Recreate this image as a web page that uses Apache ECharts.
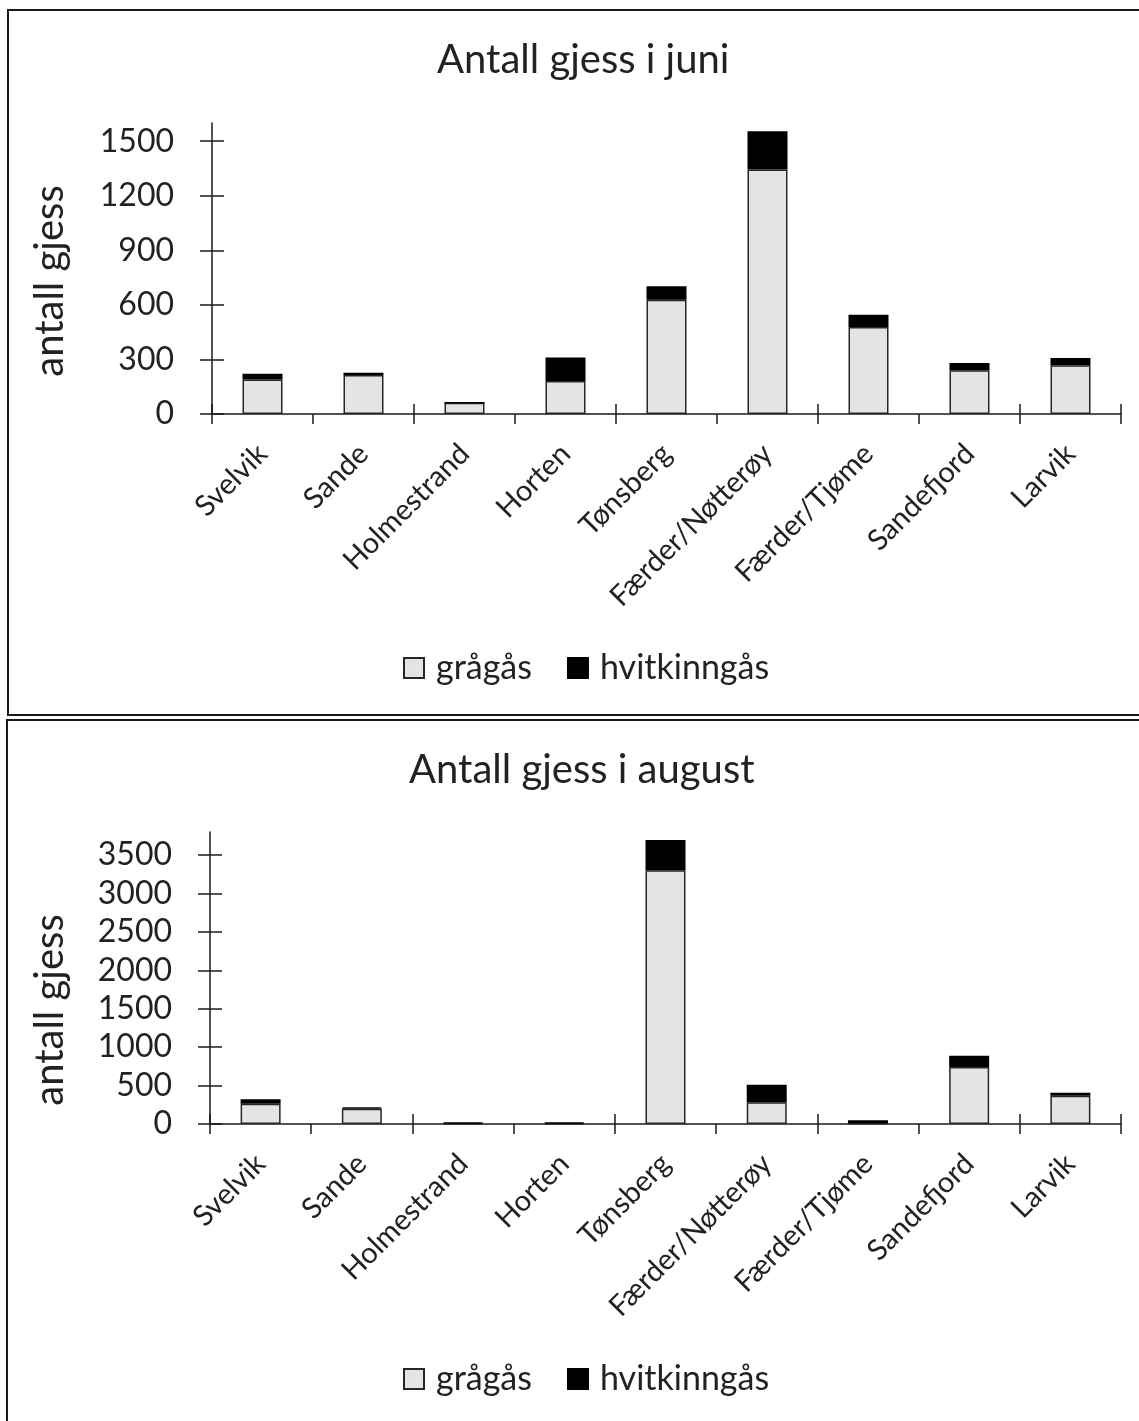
<!DOCTYPE html>
<html>
<head>
<meta charset="utf-8">
<script src="https://cdn.jsdelivr.net/npm/echarts@6/dist/echarts.min.js"></script>
<style>
html,body{margin:0;padding:0;background:#fff;}
#c{width:1139px;height:1421px;}
</style>
</head>
<body>
<div id="c"></div>
<script>
var categories = ['Svelvik','Sande','Holmestrand','Horten','Tønsberg','Færder/Nøtterøy','Færder/Tjøme','Sandefjord','Larvik'];
var juniGragas = [190, 215, 62, 181, 628, 1345, 478, 241, 268];
var juniHvitkinn = [31, 12, 0, 129, 74, 210, 68, 40, 40];
var augGragas = [264, 200, 5, 5, 3302, 282, 10, 741, 368];
var augHvitkinn = [57, 17, 15, 15, 395, 230, 40, 147, 39];
var juniTicks = [0, 300, 600, 900, 1200, 1500];
var augTicks = [0, 500, 1000, 1500, 2000, 2500, 3000, 3500];
var seriesNames = ['grågås', 'hvitkinngås'];
var titles = ['Antall gjess i juni', 'Antall gjess i august'];
var yName = 'antall gjess';

var FONT = 'Lato';
var AX = '#1a1a1a';
var GREY = '#e4e4e4';

function xAxes(grid) {
  return [{
    type: 'category', gridIndex: grid, data: categories, position: 'bottom',
    axisLine: {lineStyle: {color: AX, width: 1.5}},
    axisTick: {show: true, inside: false, length: 10, lineStyle: {color: AX, width: 1.5}},
    axisLabel: {rotate: 45, margin: 35, fontFamily: FONT, fontSize: 29, color: '#222', interval: 0}
  }, {
    type: 'category', gridIndex: grid, data: categories, position: 'bottom',
    axisLine: {show: false},
    axisTick: {show: true, inside: true, length: 10, lineStyle: {color: AX, width: 1.5}},
    axisLabel: {show: false}
  }];
}
function yAxes(grid, max, ticks) {
  return [{
    type: 'value', gridIndex: grid, min: 0, max: max, position: 'left',
    axisLine: {show: true, lineStyle: {color: AX, width: 1.5}},
    axisTick: {show: true, inside: false, length: 12, customValues: ticks, lineStyle: {color: AX, width: 1.5}},
    axisLabel: {customValues: ticks, margin: 38, fontFamily: FONT, fontSize: 32, color: '#222',
      formatter: function (v) { return String(v); }},
    splitLine: {show: false}
  }, {
    type: 'value', gridIndex: grid, min: 0, max: max, position: 'left',
    axisLine: {show: false},
    axisTick: {show: true, inside: true, length: 12, customValues: ticks, lineStyle: {color: AX, width: 1.5}},
    axisLabel: {show: false},
    splitLine: {show: false}
  }];
}
function bars(grid, grey, black, stack) {
  return [{
    name: seriesNames[0], type: 'bar', stack: stack, xAxisIndex: grid * 2, yAxisIndex: grid * 2,
    data: grey, barWidth: 40,
    itemStyle: {color: GREY, borderColor: '#262626', borderWidth: 1.5}
  }, {
    name: seriesNames[1], type: 'bar', stack: stack, xAxisIndex: grid * 2, yAxisIndex: grid * 2,
    data: black, barWidth: 40,
    itemStyle: {color: '#000', borderColor: '#000', borderWidth: 1.5}
  }];
}

var chart = echarts.init(document.getElementById('c'), null, {renderer: 'canvas'});
var legendCommon = {
  icon: 'rect', itemWidth: 20, itemHeight: 20, itemGap: 35,
  textStyle: {fontFamily: FONT, fontSize: 34, color: '#222', padding: [0, 0, 0, 7]},
  data: seriesNames
};
chart.setOption({
  animation: false,
  backgroundColor: '#fff',
  title: [
    {text: titles[0], left: 432, top: 35, textStyle: {fontFamily: FONT, fontSize: 40, fontWeight: 'normal', color: '#222'}},
    {text: titles[1], left: 404, top: 745, textStyle: {fontFamily: FONT, fontSize: 40, fontWeight: 'normal', color: '#222'}}
  ],
  legend: [
    Object.assign({left: 398, top: 646}, legendCommon),
    Object.assign({left: 398, top: 1357}, legendCommon)
  ],
  grid: [
    {left: 212, right: 18, top: 123, height: 291},
    {left: 210, right: 18, top: 832, height: 292}
  ],
  xAxis: xAxes(0).concat(xAxes(1)),
  yAxis: yAxes(0, 1600, juniTicks).concat(yAxes(1, 3800, augTicks)),
  series: bars(0, juniGragas, juniHvitkinn, 'juni').concat(bars(1, augGragas, augHvitkinn, 'aug')),
  graphic: [
    {type: 'rect', shape: {x: 8, y: 10, width: 1200, height: 705}, style: {fill: 'none', stroke: '#1a1a1a', lineWidth: 2}, silent: true},
    {type: 'rect', shape: {x: 7, y: 720, width: 1200, height: 800}, style: {fill: 'none', stroke: '#1a1a1a', lineWidth: 2}, silent: true},
    {type: 'text', x: 50, y: 281, rotation: Math.PI / 2, style: {text: yName, align: 'center', verticalAlign: 'middle', fontFamily: FONT, fontSize: 40, fill: '#222'}},
    {type: 'text', x: 50, y: 1010, rotation: Math.PI / 2, style: {text: yName, align: 'center', verticalAlign: 'middle', fontFamily: FONT, fontSize: 40, fill: '#222'}}
  ]
});
</script>
</body>
</html>
